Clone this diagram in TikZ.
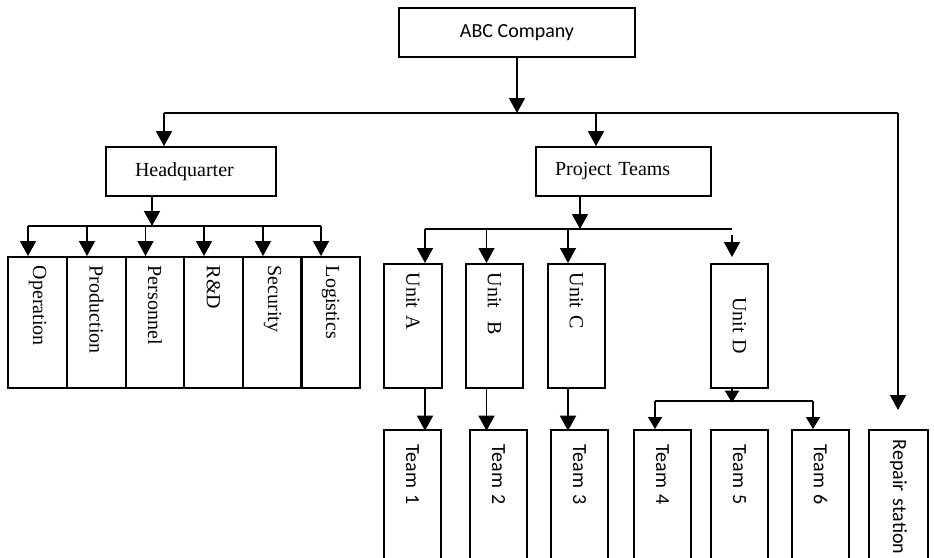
\documentclass[tikz,border=0pt]{standalone}
\usepackage{fontspec}
\setmainfont{Liberation Serif}
\newfontfamily\calibri{Carlito}
\usetikzlibrary{arrows.meta,calc}

\begin{document}
\begin{tikzpicture}[
  x=1pt, y=-1pt,
  line width=1.5pt,
  link/.style={-{Triangle[width=16pt,length=15pt]}},
  small link/.style={-{Triangle[width=14pt,length=12pt]}},
  serif text/.style={font=\fontsize{20}{24}\selectfont},
  sans text/.style={font=\calibri\fontsize{20}{24}\selectfont},
  flat box/.style={draw,line width=1.7pt,inner ysep=0pt,minimum height=49pt,align=left},
  tall box/.style={draw,line width=1.7pt,rotate=-90,anchor=west,
    inner ysep=0pt,inner xsep=#1,align=left},
  tall box/.default=9pt
]

\clip (0,0) rectangle (934,557);

% ==================================================
% top level
% ==================================================
\node[flat box,sans text,align=center,minimum width=236pt] (abc)
  at (517,32.5) {ABC Company};

\node[flat box,serif text,text width=112pt,inner xsep=29pt] (hq)
  at (191,171.5) {Headquarter};
\node[flat box,serif text,text width=137pt,inner xsep=19pt] (pt)
  at (623.5,171.5) {Project Teams};

% main bus
\coordinate (mainL) at (164,113);
\coordinate (mainPT) at (596,113);
\coordinate (mainR) at (898,113);

\draw[link] (abc.south) -- (abc.south |- mainL);
\draw (mainL) -- (mainR);
\draw[link] (mainL) -- (mainL |- hq.north);
\draw[link] (mainPT) -- (mainPT |- pt.north);

% ==================================================
% headquarter departments
% ==================================================
\coordinate (hqL) at (28,226);
\coordinate (hqB) at (152,226);
\coordinate (hqR) at (321,226);

\draw[link] (hqB |- hq.south) -- (hqB);
\draw (hqL) -- (hqR);

\foreach \cx/\nm/\txt in {37.5/op/Operation, 96.5/pd/Production,
    155/ps/Personnel, 213.5/rd/R\&D, 272.5/se/Security, 330.5/lo/Logistics}{
  \node[tall box,serif text,text width=113pt,minimum height=58.5pt] (\nm)
    at (\cx,256) {\txt};
  \draw[link] (\nm.west) ++(-9.5,-30) -- ++(0,30);
}

% ==================================================
% project units
% ==================================================
\coordinate (ptL) at (425,229);
\coordinate (ptB) at (580,229);
\coordinate (ptR) at (732,229);

\draw[link] (ptB |- pt.south) -- (ptB);
\draw (ptL) -- (ptR);

\foreach \cx/\nm/\txt in {413/ua/Unit A, 494.5/ub/Unit\ \ B, 576.5/uc/Unit C}{
  \node[tall box,serif text,text width=106pt,minimum height=57.5pt] (\nm)
    at (\cx,263) {\txt};
}
\node[tall box,serif text,align=center,text width=106pt,minimum height=57.5pt] (ud)
  at (739.5,263) {Unit D};

\foreach \nm/\dx in {ua/12, ub/-8, uc/-8.5}{
  \draw[link] (\nm.west) ++(\dx,-34) -- ++(0,34);
}
\draw[link] (ud.west) ++(-7.5,-28) -- ++(0,22);

% ==================================================
% teams
% ==================================================
\foreach \cx/\nm/\txt in {412.5/ta/Team 1, 498.5/tb/Team 2, 579.5/tc/Team 3,
    662.5/td/Team 4, 739.5/te/Team 5, 820.5/tf/Team 6}{
  \node[tall box=15pt,sans text,text width=130pt,minimum height=57pt] (\nm)
    at (\cx,429) {\txt};
}
\node[tall box=10pt,sans text,text width=140pt,minimum height=59pt] (rep)
  at (898.5,429) {Repair station};

\foreach \nm/\dx in {ua/12, ub/-8, uc/-8.5}{
  \draw[link] (\nm.east) ++(\dx,0) -- ++(0,42);
}

\coordinate (udL) at (655,401);
\coordinate (udR) at (813,401);
\draw[small link] (ud.east) ++(-7.5,0) -- ++(0,14);
\draw (udL) -- (udR);
\draw[small link] (udL) -- (udL |- td.west);
\draw[small link] (udR) -- (udR |- tf.west);

% repair station
\draw[link] (mainR) -- ($(mainR |- rep.west)+(0,-19)$);

\end{tikzpicture}
\end{document}
